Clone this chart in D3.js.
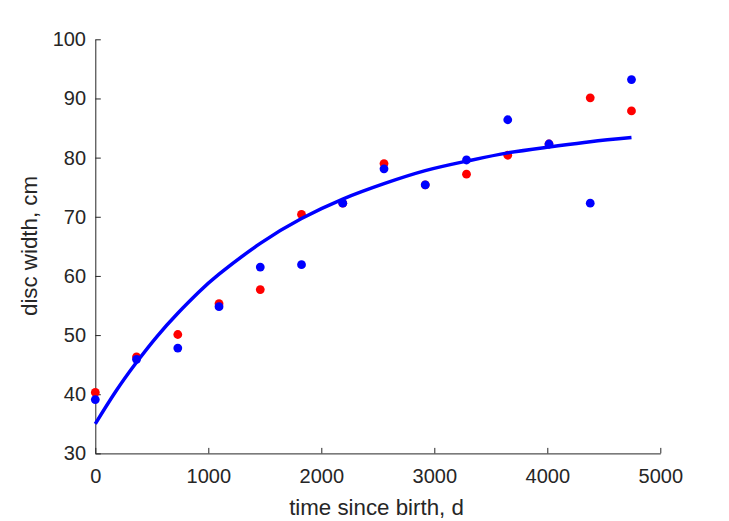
<!DOCTYPE html>
<html><head><meta charset="utf-8">
<script src="https://cdn.jsdelivr.net/npm/d3@7"></script>
<style>body{margin:0;background:#fff}svg{display:block}</style>
</head><body><svg id="c" width="729" height="521"></svg>
<script>
const days = [0,365,730,1095,1460,1825,2190,2555,2920,3285,3650,4015,4380,4745];
const redWidth  = [40.3,46.3,50.1,55.3,57.7,70.4,72.3,79.0,75.4,77.2,80.4,82.3,90.1,87.9];
const blueWidth = [39.1,45.9,47.8,54.8,61.5,61.9,72.3,78.1,75.4,79.6,86.4,82.3,72.3,93.2];
const fitDays  = [0,182,365,547,730,912,1095,1460,1825,2190,2555,2920,3285,3650,4015,4380,4745];
const fitWidth = [35.0,40.5,45.4,49.8,53.7,57.2,60.3,65.5,69.7,73.0,75.6,77.8,79.4,80.8,81.8,82.7,83.4];
const xTicks = [0,1000,2000,3000,4000,5000];
const yTicks = [30,40,50,60,70,80,90,100];
const xLabel = "time since birth, d";
const yLabel = "disc width, cm";

const svg = d3.select("#c");
const x = d3.scaleLinear().domain([0,5000]).range([95.3,660.3]);
const y = d3.scaleLinear().domain([30,100]).range([453.4,39.3]);
const ink = "#262626";
const font = "Arial, 'Liberation Sans', Helvetica, sans-serif";

const gx = svg.append("g").attr("transform","translate(0,453.4)")
  .call(d3.axisBottom(x).tickValues(xTicks).tickSizeInner(-5.5).tickSizeOuter(0).tickPadding(15.5).tickFormat(d3.format("d")));
const gy = svg.append("g").attr("transform","translate(95.3,0)")
  .call(d3.axisLeft(y).tickValues(yTicks).tickSizeInner(-5.5).tickSizeOuter(0).tickPadding(9.3).tickFormat(d3.format("d")));
[gx,gy].forEach(g=>{
  g.selectAll("path,line").attr("stroke",ink).attr("stroke-width",1);
  g.selectAll("text").attr("fill",ink).style("font-family",font).style("font-size","20px");
});
gx.selectAll("text").attr("dy","0.71em");

svg.append("text").attr("x",376.5).attr("y",515).attr("text-anchor","middle")
  .attr("fill",ink).style("font-family",font).style("font-size","22.3px").text(xLabel);
svg.append("text").attr("transform","translate(37,246) rotate(-90)").attr("text-anchor","middle")
  .attr("fill",ink).style("font-family",font).style("font-size","22.3px").text(yLabel);

svg.append("g").selectAll("circle").data(days).join("circle")
  .attr("cx",(d)=>x(d)).attr("cy",(d,i)=>y(redWidth[i])).attr("r",4.4).attr("fill","#ff0000");
svg.append("g").selectAll("circle").data(days).join("circle")
  .attr("cx",(d)=>x(d)).attr("cy",(d,i)=>y(blueWidth[i])).attr("r",4.4).attr("fill","#0000ff");

const line = d3.line().x((d)=>x(d)).y((d,i)=>y(fitWidth[i])).curve(d3.curveNatural);
svg.append("path").attr("d",line(fitDays)).attr("fill","none").attr("stroke","#0000ff").attr("stroke-width",3.5);
</script></body></html>
